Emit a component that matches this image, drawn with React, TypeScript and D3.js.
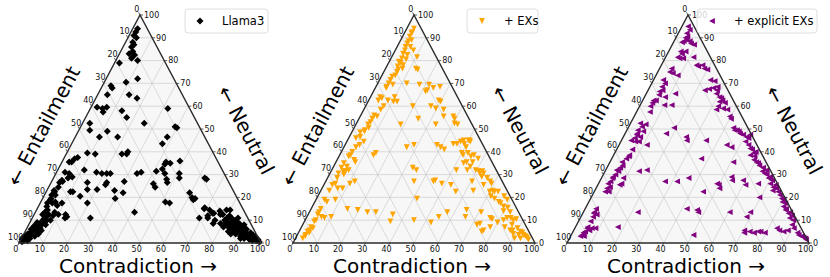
import React, { useEffect, useRef } from "react";
import * as d3 from "d3";

// every point is [neutral, contradiction] in percent; entailment = 100 - neutral - contradiction
const llama3: [number, number][] = [
  [94, 2], [92.5, 2], [91, 2], [90, 3.5], [88, 3], [87, 4], [86, 3.5], [84, 5], [83, 4], [82.5, 6.5],
  [81, 6], [80, 9], [79, 2], [72, 13], [70.5, 9], [69, 3.5], [68, 4.5], [65, 13], [63.5, 17], [65, 4],
  [59.5, 2.5], [59, 5], [59.5, 6.5], [57.5, 6], [58, 13.5], [55, 17], [59, 32], [52.5, 25.5], [51, 39],
  [50.5, 40], [52.5, 3], [49.5, 4.5], [49, 12], [46.5, 10], [46.5, 17.5], [46.5, 38], [43.5, 37.5],
  [37.5, 5.5], [37, 4.5], [35.5, 4], [35.5, 3], [39.5, 8.5], [39, 12], [39, 23], [39, 25], [40, 25],
  [35.5, 43], [35, 45], [34.5, 43], [36, 48.5],
  [31, 3.5], [30.5, 5.5], [29, 7.5], [28.5, 6], [27.5, 4], [27, 4.5], [26.5, 3.5], [24.5, 4], [22.5, 3.5],
  [21, 3], [19, 3.5], [17.5, 3], [16, 3.5], [13.5, 4], [12.5, 3.5],
  [32, 11], [31, 16.5], [30.5, 19], [30.5, 21], [30.5, 22.5], [30.5, 33.5], [31, 35], [31.5, 41], [32.5, 43],
  [30.5, 45], [30.5, 51], [28.5, 52],
  [26.5, 15], [23.5, 16.5], [23.5, 20.5], [25.5, 23], [26.5, 23], [27, 30], [26, 42.5], [24.5, 44], [26.5, 48],
  [28, 47], [28.5, 62.5], [28, 63.5],
  [22.5, 10], [22.5, 11], [20.5, 15], [23, 28], [22, 32], [19.5, 30], [17.5, 19.5], [13.5, 41], [18, 51.5],
  [17.5, 53.5], [22, 59.5], [20, 61.5], [19.5, 63], [19, 62.5],
  [11, 24], [11, 69], [14.5, 71.5], [13, 73.5], [12.5, 77], [12.5, 78], [11, 80.5], [14.5, 78.5], [14.5, 80],
  [11, 72.5], [8.5, 76], [15.5, 69], [13, 74],
  [19.5, 3.5], [18, 6], [16.5, 7.5], [11.5, 14], [11, 13.5], [23, 3], [21, 4.5], [17.5, 5], [17.5, 9], [13.5, 8],
  [12.5, 10], [12.5, 13], [13, 4], [14.5, 4.5],
  [1.5, 0.5], [1, 1.5], [1.5, 2.5], [2, 1], [2.5, 2], [3, 1], [3, 3], [3.5, 2], [4, 1.5], [4.5, 4.5], [4, 3],
  [5, 2.5], [5, 4], [5.5, 3], [6, 4.5], [6.5, 5.5], [6.5, 3], [7, 4], [7.5, 5], [8, 3.5], [8.5, 5.5], [9, 4.5],
  [9.5, 6], [10, 6.5], [10.5, 5], [11.5, 5.5], [12.5, 6], [2, 3.5], [3, 5], [4, 6], [5.5, 6.5], [1, 3], [0.5, 1],
  [2.5, 0.5], [6, 2], [7.5, 2.5], [9, 3], [8, 7], [10, 8], [12, 8],
  [10, 80], [9, 82], [9, 83.5], [8, 84], [8, 85.5], [7, 85], [7, 87], [6, 87], [6, 88.5], [5, 88], [5, 89.5],
  [5, 91], [4, 90], [4, 92], [3, 92], [3, 93.5], [2, 94], [2, 95.5], [1, 96], [1, 97.5], [0.5, 99], [1.5, 98],
  [2.5, 96.5], [3.5, 95], [4.5, 93.5], [6, 91], [7, 89], [8, 87.5], [9, 86], [10, 84.5], [10.5, 83], [9, 81],
  [8, 82], [7, 83], [6, 85], [5, 86], [4, 87.5], [3, 90], [2, 92], [6.5, 84], [11, 82], [12, 81], [11, 85],
  [8, 89], [6.5, 90], [3, 96], [1.5, 94.5], [2, 90.5], [4, 85.5], [5, 84], [7, 81], [13, 77], [14, 76],
  [15, 69], [8.5, 79], [10, 76], [12, 72],
];

const exs: [number, number][] = [
  [94, 3], [92.5, 3], [92, 3], [90.5, 3], [89, 4.5], [88.5, 3.5], [87.5, 3.5], [86, 3.5], [86, 5.5], [84.5, 4],
  [84.5, 7.5], [83, 4], [82.5, 6], [81, 4.5], [80.5, 6.5], [79.5, 4], [79, 5], [78, 6.5], [77.5, 4.5], [76.5, 7],
  [76, 5.5], [75, 5.5], [73.5, 5.5], [73, 4.5], [71.5, 4.5], [70, 4.5], [69.5, 6.5], [68.5, 4.5], [68, 4.5],
  [64, 4], [62.5, 4], [63.5, 5], [62.5, 8], [64, 10], [62, 10.5], [62, 12], [60, 7.5], [58.5, 7], [56, 5.5],
  [55.5, 7], [54.5, 5.5], [53, 5.5], [52, 5], [50.5, 6], [49, 5], [46.5, 4.5],
  [81.5, 10.5], [76.5, 12.5], [76, 13.5], [70, 12], [69.5, 17.5], [69.5, 21.5], [66.5, 21.5], [67, 22], [68, 24],
  [68.5, 26.5], [62.5, 29], [62, 30], [60, 27], [59, 29.5], [58.5, 33], [55.5, 34.5], [60, 19.5], [54.5, 24.5],
  [52, 18.5], [52, 33], [55.5, 38.5], [54.5, 39.5], [52.5, 40.5], [52, 42], [45, 50], [45, 50.5], [45, 48],
  [44.5, 7], [43, 6], [42, 5], [40, 4.5], [38.5, 4.5], [38, 4], [36.5, 7], [35.5, 8], [35, 3.5], [33.5, 5.5],
  [33, 3.5], [31.5, 5], [31.5, 6], [32, 7], [30.5, 3.5], [30, 6], [28.5, 4], [26, 4.5], [25.5, 3.5], [24, 6.5],
  [23, 3.5], [24, 8.5], [26, 10.5], [27, 12], [19, 3.5], [18, 5], [19, 8], [15, 4], [13.5, 4], [12.5, 4],
  [10, 4.5], [11.5, 6], [11, 7.5], [11.5, 10], [9.5, 4], [7, 4], [5.5, 4], [5, 3.5], [3.5, 3.5], [3, 3.5],
  [6.5, 5], [2, 3], [4.5, 4.5], [48.5, 3.5], [49.5, 5], [46, 3],
  [39.5, 14.5], [38.5, 14], [42, 26], [43, 28.5], [33, 33], [32, 35], [27, 36.5], [19.5, 41.5], [15, 15],
  [14.5, 19.5], [13.5, 24], [13.5, 27.5], [12.5, 35], [9.5, 35.5], [10, 45], [9, 52.5], [11.5, 54.5], [13.5, 57],
  [11.5, 65.5], [14.5, 64.5],
  [43, 38], [42, 40], [41, 42], [43.5, 44.5], [43.5, 46], [44.5, 47], [43.5, 49], [44.5, 51], [42, 50.5],
  [39.5, 50], [38.5, 51], [39.5, 52.5], [38, 54.5], [38.5, 55.5], [37, 58], [35.5, 56.5], [35.5, 54], [35, 53],
  [32, 51.5], [32, 56], [33.5, 56.5], [32, 59.5], [31.5, 61], [30.5, 62], [31.5, 62.5], [30.5, 63.5], [29, 63.5],
  [28.5, 66], [27, 68], [26, 69], [25.5, 66], [27, 60.5], [23, 63], [22.5, 56], [25.5, 52.5], [26, 48.5],
  [27.5, 45], [27, 44.5], [22.5, 70], [23, 71], [22.5, 72], [22.5, 73.5], [20.5, 77], [19, 79], [20.5, 71.5],
  [19.5, 73.5], [18, 76], [17.5, 77], [16, 79], [13.5, 83], [11, 76], [10.5, 77], [13.5, 71], [8.5, 73],
  [5.5, 76], [5, 75.5], [7, 78], [10, 82], [11, 83], [11, 84.5], [10, 86], [10.5, 87], [8, 86.5], [5.5, 87],
  [5.5, 88], [6.5, 89.5], [5, 91.5], [4.5, 92.5], [3.5, 93.5], [3, 94.5], [2.5, 95.5], [3.5, 91.5], [8, 72],
  [2, 90.5], [1.5, 96.5], [2, 93], [4, 89], [7, 84], [9, 80], [15.5, 81], [14, 80],
];

const explicitExs: [number, number][] = [
  [95, 2.5], [93.5, 4], [92, 3.5], [90.5, 4.5], [90, 4], [89, 5], [88.5, 6.5], [87.5, 7.5], [87, 9], [88.5, 4],
  [88, 3.5], [84, 5], [83, 6], [84, 7], [81.5, 5], [81, 6], [81, 7.5], [81.5, 11.5], [76.5, 5], [75, 5],
  [74.5, 6.5], [73.5, 9], [71.5, 4], [70, 5.5], [68.5, 5], [67, 6], [66.5, 5], [65, 5.5], [64, 8.5], [62.5, 4.5],
  [61.5, 4.5], [60, 4.5], [62.5, 5.5], [57.5, 5.5], [52.5, 4], [51, 5.5], [49.5, 4.5], [48, 5], [46.5, 7],
  [52, 6.5], [49, 7],
  [47.5, 5], [46, 5], [45, 4], [44.5, 6], [44.5, 7.5], [43, 11.5], [41, 6.5], [38.5, 6.5], [38, 6.5], [37, 6],
  [35.5, 5], [34, 6], [33, 5.5], [31.5, 5.5], [32, 4.5], [30, 5], [29, 4.5], [28.5, 4.5], [27, 4.5], [26, 4],
  [24.5, 5.5], [24, 4.5], [22.5, 6], [22.5, 4.5], [28.5, 9], [26, 9.5], [25.5, 9], [31.5, 14], [32, 17],
  [15, 4.5], [13.5, 4.5], [13, 4.5], [12.5, 6], [11.5, 5], [9.5, 5], [7, 5], [6.5, 5], [5, 5], [4.5, 4.5],
  [3.5, 4.5], [3, 4], [3, 5.5], [5.5, 6.5], [6.5, 7], [6.5, 8.5], [7, 17.5], [13.5, 22.5],
  [78, 14.5], [77.5, 15.5], [78, 17], [76.5, 18.5], [76, 20], [71.5, 23.5], [71, 25.5], [67, 23.5], [67.5, 25],
  [68, 26.5], [67, 28.5], [68.5, 28], [65.5, 29], [64, 31], [63.5, 32], [62.5, 33], [62, 32], [61.5, 34.5],
  [60, 32.5], [59, 35], [58.5, 37], [58.5, 32.5], [55.5, 39.5], [54.5, 40.5], [50.5, 43.5], [49.5, 45.5],
  [48, 47.5], [47.5, 49], [46.5, 51], [46, 52], [47.5, 52], [50.5, 19], [46.5, 26], [48, 17], [65.5, 12],
  [60.5, 10], [60.5, 13],
  [45, 27], [45, 35], [37, 37], [43, 44.5], [42, 47], [35.5, 51], [27, 27], [27, 32], [28.5, 36], [22.5, 45],
  [26, 49], [25.5, 50], [24, 51], [27.5, 54.5], [27.5, 59], [15, 42], [14.5, 46.5], [13.5, 47.5], [13.5, 60.5],
  [11.5, 68.5], [3.5, 50.5],
  [49.5, 44.5], [49, 46.5], [44.5, 51.5], [43, 53.5], [41.5, 55], [41, 56], [39.5, 57.5], [38.5, 56.5],
  [38, 58.5], [35.5, 60.5], [35, 61.5], [34, 62.5], [33, 64.5], [31.5, 65], [30.5, 66.5], [30, 67.5], [29, 69.5],
  [28.5, 69], [27.5, 71], [26, 71], [25.5, 73.5], [24.5, 73], [24, 74.5], [23, 73.5], [22.5, 76], [21, 77.5],
  [19.5, 79], [19, 80], [17.5, 81.5], [16, 81.5], [15, 83], [13, 85], [11, 86.5], [10, 88.5], [13.5, 85.5],
  [14.5, 83], [6.5, 83.5], [5.5, 85], [5, 87], [5.5, 88.5], [6.5, 90.5], [4.5, 93], [3.5, 94], [3, 95.5],
  [2, 97.5], [1.5, 98], [5, 73], [4.5, 75], [5, 76.5], [5, 77.5], [4.5, 71], [5.5, 70.5], [4.5, 79.5],
  [13.5, 69], [20, 69.5], [25.5, 61], [26, 66], [29, 53.5], [32, 66.5], [36.5, 59], [40, 58], [18, 80],
  [12, 87], [8, 89], [2.5, 96.5],
];

const seriesNames = ["Llama3", "+ EXs", "+ explicit EXs"];
const seriesColors = ["#000000", "#ffa500", "#800080"];
const seriesMarkers = ["diamond", "down", "left"];
const tickValues = [0, 10, 20, 30, 40, 50, 60, 70, 80, 90, 100];
const gridValues = [10, 20, 30, 40, 50, 60, 70, 80, 90];
const leftTitle = "← Entailment";
const rightTitle = "← Neutral";
const bottomTitle = "Contradiction →";

const W = 830;
const H = 277;
const baseY = 243;
const topY = 15;
const triW = 242;

const panels = [
  { left: 19, data: llama3, legendX: 185, legendW: 83 },
  { left: 293, data: exs, legendX: 467, legendW: 71 },
  { left: 567, data: explicitExs, legendX: 697, legendW: 120 },
];

const markerPath = (kind: string) => {
  if (kind === "diamond") { const s = 3.5; return `M0,${-s}L${s},0L0,${s}L${-s},0Z`; }
  const s = 2.9;
  if (kind === "down") return `M${-s},${-s}L${s},${-s}L0,${s}Z`;
  return `M${-s},0L${s},${-s}L${s},${s}Z`;
};

const App: React.FC = () => {
  const svgRef = useRef<SVGSVGElement | null>(null);

  useEffect(() => {
    if (!svgRef.current) return;
    const svg = d3.select(svgRef.current);
    svg.selectAll("*").remove();
    svg.attr("width", W).attr("height", H).attr("font-family", "DejaVu Sans");

    const yN = d3.scaleLinear().domain([0, 100]).range([baseY, topY]);
    const xC = d3.scaleLinear().domain([0, 100]).range([0, triW]);
    const pt = (n: number, c: number): [number, number] => [xC(c) + xC(n) / 2, yN(n)];

    const apex = pt(100, 0);
    const bl = pt(0, 0);
    const br = pt(0, 100);
    const unit = (a: [number, number], b: [number, number]) => {
      const dx = b[0] - a[0], dy = b[1] - a[1];
      const l = Math.hypot(dx, dy);
      return [dx / l, dy / l];
    };
    const dirLeft = unit(br, apex);
    const dirBottom = unit(apex, bl);
    const angle = (Math.atan2(bl[1] - apex[1], apex[0] - bl[0]) * 180) / Math.PI;

    panels.forEach((p, i) => {
      const g = svg.append("g").attr("transform", `translate(${p.left},0)`);

      g.append("path")
        .attr("d", `M${bl}L${apex}L${br}Z`)
        .attr("fill", "#f7f7f7");

      const grid = g.append("g").attr("stroke", "#c6c6c6").attr("stroke-width", 0.6);
      const seg = (a: [number, number], b: [number, number]) =>
        grid.append("line").attr("x1", a[0]).attr("y1", a[1]).attr("x2", b[0]).attr("y2", b[1]);
      gridValues.forEach((k) => {
        seg(pt(k, 0), pt(k, 100 - k));
        seg(pt(0, k), pt(100 - k, k));
        seg(pt(100 - k, 0), pt(0, 100 - k));
      });

      g.append("g")
        .selectAll("path")
        .data(p.data)
        .enter()
        .append("path")
        .attr("transform", (d) => `translate(${pt(d[0], d[1])})`)
        .attr("d", markerPath(seriesMarkers[i]))
        .attr("fill", seriesColors[i]);

      g.append("path")
        .attr("d", `M${bl}L${apex}L${br}Z`)
        .attr("fill", "none")
        .attr("stroke", "#2b2b2b")
        .attr("stroke-width", 1.4)
        .attr("stroke-linejoin", "miter");

      const ticks = g.append("g").attr("font-size", 8).attr("fill", "#111");
      const tickLine = (q: [number, number], d: number[]) =>
        ticks.append("line")
          .attr("x1", q[0]).attr("y1", q[1])
          .attr("x2", q[0] + d[0] * 3).attr("y2", q[1] + d[1] * 3)
          .attr("stroke", "#333").attr("stroke-width", 0.8);
      tickValues.forEach((v) => {
        // entailment on left edge
        const ql = pt(100 - v, 0);
        tickLine(ql, dirLeft);
        ticks.append("text")
          .attr("x", ql[0] + dirLeft[0] * 7).attr("y", ql[1] + dirLeft[1] * 7)
          .attr("text-anchor", "middle").attr("dy", "0.35em").text(v);
        // neutral on right edge
        const qr = pt(v, 100 - v);
        tickLine(qr, [1, 0]);
        ticks.append("text")
          .attr("x", qr[0] + 4).attr("y", qr[1])
          .attr("dy", "0.35em").text(v);
        // contradiction on base
        const qb = pt(0, v);
        tickLine(qb, dirBottom);
        ticks.append("text")
          .attr("x", qb[0] + dirBottom[0] * 7).attr("y", qb[1] + dirBottom[1] * 7)
          .attr("text-anchor", "middle").attr("dy", "0.35em").text(v);
      });

      const titles = g.append("g").attr("font-size", 20).attr("fill", "#000").attr("text-anchor", "middle");
      titles.append("text")
        .attr("transform", `translate(24.5,126) rotate(${-angle})`)
        .attr("dy", "0.35em").text(leftTitle);
      titles.append("text")
        .attr("transform", `translate(227,130) rotate(${angle})`)
        .attr("dy", "0.35em").text(rightTitle);
      titles.append("text")
        .attr("x", triW / 2 - 2).attr("y", 273).text(bottomTitle);

      const lg = svg.append("g").attr("transform", `translate(${p.legendX},9)`);
      lg.append("rect")
        .attr("width", p.legendW).attr("height", 24).attr("rx", 3)
        .attr("fill", "#fff").attr("fill-opacity", 0.8)
        .attr("stroke", "#d6d6d6").attr("stroke-width", 0.8);
      lg.append("path")
        .attr("transform", "translate(15,12)")
        .attr("d", markerPath(seriesMarkers[i]))
        .attr("fill", seriesColors[i]);
      lg.append("text")
        .attr("x", 37).attr("y", 12).attr("dy", "0.35em")
        .attr("font-size", 11.5).text(seriesNames[i]);
    });
  }, []);

  return <svg ref={svgRef} style={{ position: "absolute", left: 0, top: 0 }}></svg>;
};

export default App;
